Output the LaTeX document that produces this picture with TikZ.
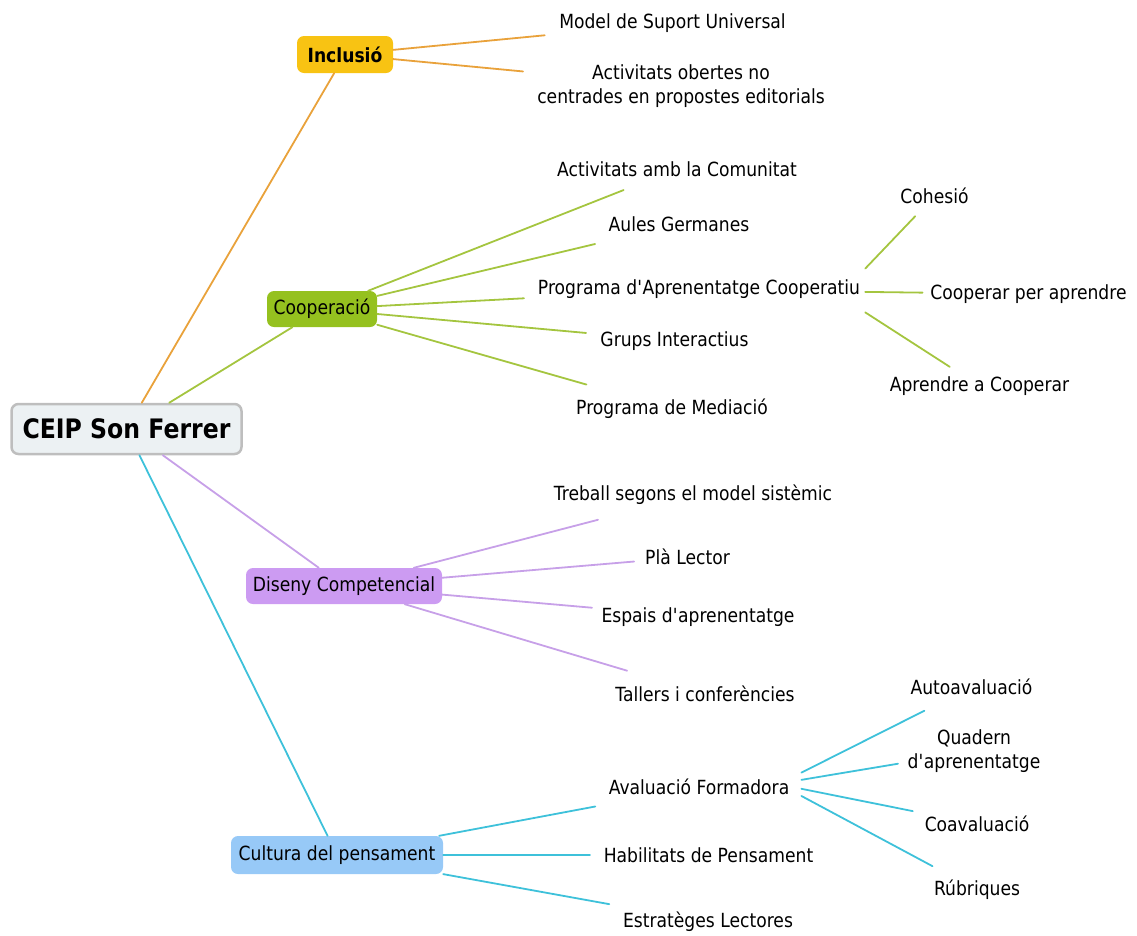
\documentclass[tikz,border=0pt]{standalone}
\usepackage{fontspec}
\setmainfont{DejaVu Sans}[FakeStretch=0.88]
\definecolor{rootfill}{HTML}{ECF1F3}
\definecolor{rootborder}{HTML}{BEBEBE}
\definecolor{inclfill}{HTML}{F8C313}
\definecolor{coopfill}{HTML}{95C11F}
\definecolor{disfill}{HTML}{CC9BF2}
\definecolor{culfill}{HTML}{97C9F7}
\definecolor{orangec}{HTML}{E9A23B}
\definecolor{greenc}{HTML}{A4C53F}
\definecolor{purplec}{HTML}{C7A0E8}
\definecolor{cyanc}{HTML}{3EC1DA}
\begin{document}
\begin{tikzpicture}[x=1pt,y=-1pt,
  every node/.style={font=\fontsize{19.5}{24}\selectfont, text=black},
  txt/.style={inner sep=0pt, align=center},
  box/.style={rounded corners=7pt, minimum height=36pt, inner sep=0pt, align=center},
  conn/.style={line width=1.8pt, line cap=round}]
\path[use as bounding box] (0,0) rectangle (1137,935);

% main nodes
\node[box, draw=rootborder, line width=2.5pt, fill=rootfill, minimum width=230pt, minimum height=50pt,
      font=\bfseries\fontsize{26.8}{30}\selectfont] (root) at (126.5,429) {CEIP Son Ferrer};
\node[box, fill=inclfill, minimum width=96pt, minimum height=37pt,
      font=\bfseries\fontsize{19.5}{24}\selectfont] (incl) at (345,54.5) {Inclusió};
\node[box, fill=coopfill, minimum width=110pt] (coop) at (322,309) {Cooperació};
\node[box, fill=disfill, minimum width=196pt] (dis) at (344,586) {Diseny Competencial};
\node[box, fill=culfill, minimum width=212pt, minimum height=38pt] (cul) at (337,855) {Cultura del pensament};

% Inclusio children
\node[txt] (i1) at (672.5,23) {Model de Suport Universal};
\node[txt] (i2) at (681,86.5) {Activitats obertes no\\centrades en propostes editorials};

% Cooperacio children
\node[txt] (c1) at (677,169) {Activitats amb la Comunitat};
\node[txt] (c2) at (679,224) {Aules Germanes};
\node[txt, inner xsep=5pt, inner ysep=14pt] (c3) at (699,289) {Programa d\textquotesingle{}Aprenentatge Cooperatiu};
\node[txt] (c4) at (674.5,341) {Grups Interactius};
\node[txt] (c5) at (672,409) {Programa de Mediació};
\node[txt] (p1) at (934.5,196) {Cohesió};
\node[txt] (p2) at (1028.5,294) {Cooperar per aprendre};
\node[txt] (p3) at (979.5,386) {Aprendre a Cooperar};

% Diseny children
\node[txt] (d1) at (693,495) {Treball segons el model sistèmic};
\node[txt] (d2) at (687.5,557) {Plà Lector};
\node[txt] (d3) at (698,617) {Espais d\textquotesingle{}aprenentatge};
\node[txt] (d4) at (705,694) {Tallers i conferències};

% Cultura children
\node[txt, inner xsep=12pt, inner ysep=8pt] (k1) at (699,787) {Avaluació Formadora};
\node[txt] (k2) at (708.5,855) {Habilitats de Pensament};
\node[txt] (k3) at (708,922) {Estratèges Lectores};
\node[txt] (a1) at (971.5,687) {Autoavaluació};
\node[txt] (a2) at (974,751) {Quadern\\d\textquotesingle{}aprenentatge};
\node[txt] (a3) at (977,824) {Coavaluació};
\node[txt] (a4) at (977,890) {Rúbriques};

% connectors from root
\draw[conn, orangec] (root) -- (incl);
\draw[conn, greenc] (root) -- (coop);
\draw[conn, purplec] (root) -- (dis);
\draw[conn, cyanc] (root) -- (cul);

% Inclusio
\draw[conn, orangec, shorten >=128.4pt] (incl) -- (i1.center);
\draw[conn, orangec, shorten >=158.7pt] (incl) -- (i2.center);

% Cooperacio
\draw[conn, greenc, shorten >=57.4pt] (coop) -- (c1.center);
\draw[conn, greenc, shorten >=86.3pt] (coop) -- (c2.center);
\draw[conn, greenc, shorten >=175.3pt] (coop) -- (c3.center);
\draw[conn, greenc, shorten >=88.8pt] (coop) -- (c4.center);
\draw[conn, greenc, shorten >=89pt] (coop) -- (c5.center);
\draw[conn, greenc, shorten >=28pt] (c3.7.5) -- (p1.center);
\draw[conn, greenc, shorten >=106pt] (c3.-1.4) -- (p2.center);
\draw[conn, greenc, shorten >=35.4pt] (c3.-8.2) -- (p3.center);

% Diseny
\draw[conn, purplec, shorten >=98.2pt] (dis) -- (d1.center);
\draw[conn, purplec, shorten >=53.6pt] (dis) -- (d2.center);
\draw[conn, purplec, shorten >=106.4pt] (dis) -- (d3.center);
\draw[conn, purplec, shorten >=81.3pt] (dis) -- (d4.center);

% Cultura
\draw[conn, cyanc, shorten >=105.5pt] (cul) -- (k1.center);
\draw[conn, cyanc, shorten >=118.5pt] (cul) -- (k2.center);
\draw[conn, cyanc, shorten >=100.4pt] (cul) -- (k3.center);
\draw[conn, cyanc, shorten >=52.8pt] (k1.8.3) -- (a1.center);
\draw[conn, cyanc, shorten >=77.1pt] (k1.4.4) -- (a2.center);
\draw[conn, cyanc, shorten >=65.5pt] (k1.-1.7) -- (a3.center);
\draw[conn, cyanc, shorten >=50.5pt] (k1.-5.5) -- (a4.center);
\end{tikzpicture}
\end{document}
